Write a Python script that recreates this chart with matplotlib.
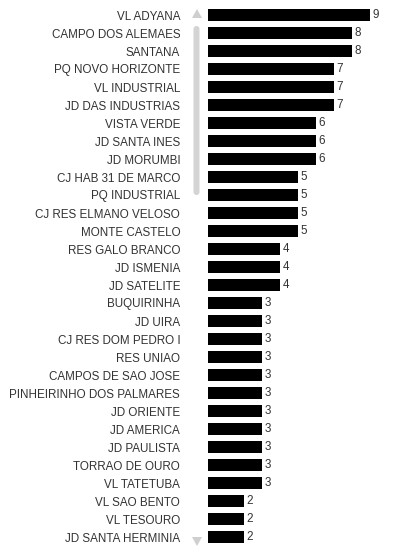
import matplotlib.pyplot as plt
from matplotlib.patches import FancyBboxPatch, Polygon

plt.rcParams['font.family'] = ['Liberation Sans', 'DejaVu Sans']

bairros = ['VL ADYANA', 'CAMPO DOS ALEMAES', 'SANTANA', 'PQ NOVO HORIZONTE',
           'VL INDUSTRIAL', 'JD DAS INDUSTRIAS', 'VISTA VERDE', 'JD SANTA INES',
           'JD MORUMBI', 'CJ HAB 31 DE MARCO', 'PQ INDUSTRIAL',
           'CJ RES ELMANO VELOSO', 'MONTE CASTELO', 'RES GALO BRANCO',
           'JD ISMENIA', 'JD SATELITE', 'BUQUIRINHA', 'JD UIRA',
           'CJ RES DOM PEDRO I', 'RES UNIAO', 'CAMPOS DE SAO JOSE',
           'PINHEIRINHO DOS PALMARES', 'JD ORIENTE', 'JD AMERICA',
           'JD PAULISTA', 'TORRAO DE OURO', 'VL TATETUBA', 'VL SAO BENTO',
           'VL TESOURO', 'JD SANTA HERMINIA']
valores = [9, 8, 8, 7, 7, 7, 6, 6, 6, 5, 5, 5, 5, 4, 4, 4,
           3, 3, 3, 3, 3, 3, 3, 3, 3, 3, 3, 2, 2, 2]

W, H = 396, 556
fig = plt.figure(figsize=(W / 100, H / 100), dpi=100)

# eixo principal: 18 px por unidade, 18 px por linha
ax = fig.add_axes([208 / W, (H - 546) / H, 180 / W, 540 / H])
y = range(len(bairros))
ax.barh(y, valores, height=0.67, color='black')
ax.set_xlim(0, 10)
ax.set_ylim(len(bairros) - 0.5, -0.5)
ax.set_yticks(list(y))
ax.set_yticklabels(bairros, fontsize=8.4, color='#333333')
ax.tick_params(axis='y', length=0, pad=20)
ax.set_xticks([])
for s in ax.spines.values():
    s.set_visible(False)

for i, v in enumerate(valores):
    ax.text(v + 0.15, i, str(v), va='center', ha='left', fontsize=8.4, color='#333333')

# barra de rolagem
ov = fig.add_axes([0, 0, 1, 1], zorder=5)
ov.set_xlim(0, W)
ov.set_ylim(H, 0)
ov.axis('off')
ov.patch.set_alpha(0)
ov.add_patch(FancyBboxPatch((193.5, 26), 6, 169,
                            boxstyle='round,pad=0,rounding_size=3',
                            fc='#d4d4d4', ec='none'))
ov.add_patch(Polygon([[192, 18], [202, 18], [197, 9]], closed=True,
                     fc='#cfcfcf', ec='none'))
ov.add_patch(Polygon([[192, 537], [202, 537], [197, 546]], closed=True,
                     fc='#cfcfcf', ec='none'))

plt.savefig('out.png', dpi=100)
